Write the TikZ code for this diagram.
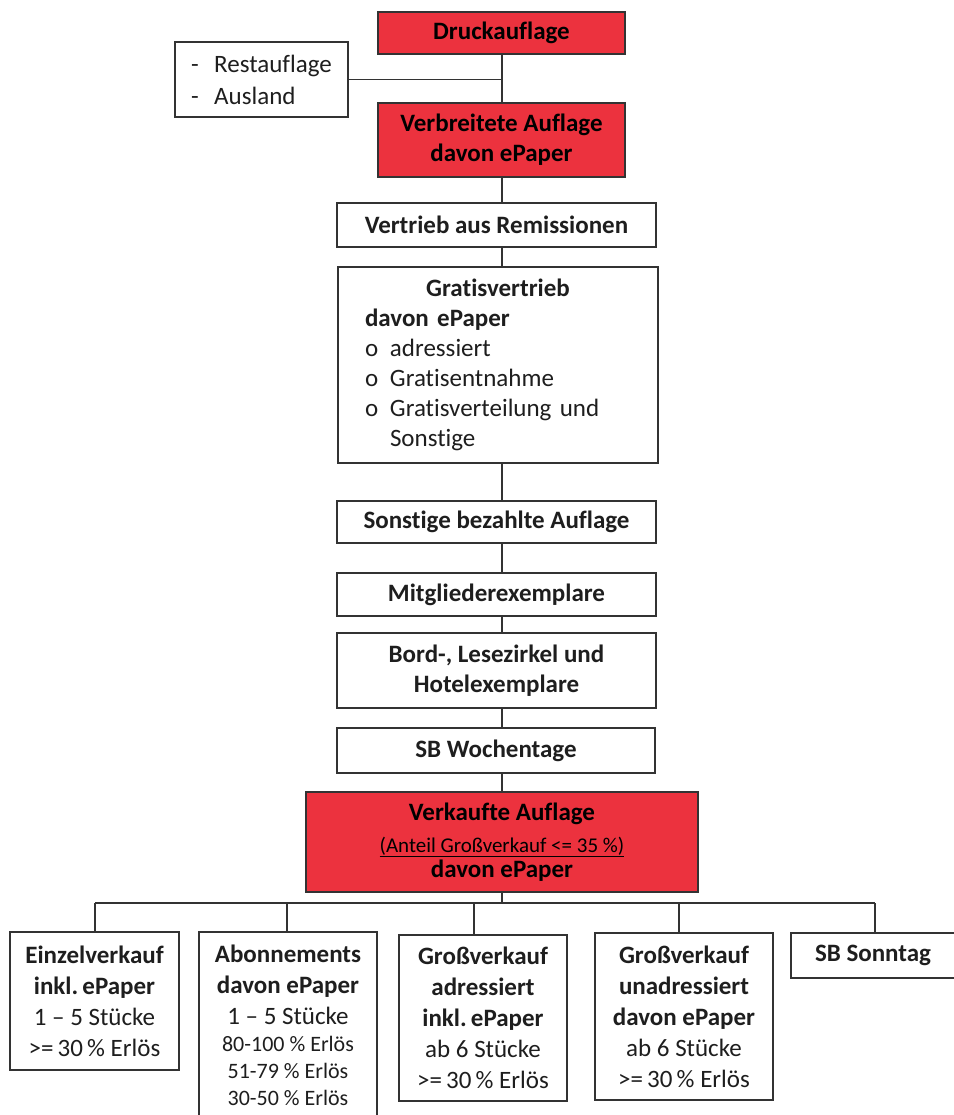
\documentclass[tikz,border=0pt]{standalone}
\usepackage{fontspec}
\setmainfont{Carlito}[Ligatures={NoCommon}]
\definecolor{boxred}{RGB}{236,50,62}
\definecolor{ink}{RGB}{30,30,30}
\definecolor{edge}{RGB}{51,51,51}
\begin{document}
\begin{tikzpicture}[x=1pt,y=-1pt,
  box/.style={draw=edge, line width=1.4pt, fill=white, inner sep=0pt, align=center, text=ink, font=\fontsize{25}{30}\selectfont},
  redbox/.style={box, fill=boxred, text=black},
  bottombox/.style={box, font=\fontsize{25}{31}\selectfont},
  link/.style={draw=edge, line width=1.3pt}]
\useasboundingbox (0,0) rectangle (953,1115);

% central column
\node[redbox, minimum width=247, minimum height=42] (druck) at (501.5,33) {\bfseries Druckauflage};
\node[box, minimum width=173, minimum height=75, align=left, font=\fontsize{25}{32}\selectfont] (rest) at (261.5,79.5)
  {\makebox[23pt][l]{-}Restauflage\\ \makebox[23pt][l]{-}Ausland};
\node[redbox, minimum width=247, minimum height=74] (verb) at (501.5,140) {\bfseries Verbreitete Auflage\\ \bfseries davon ePaper};
\node[box, minimum width=319, minimum height=44] (vert) at (496.5,225) {\bfseries Vertrieb aus Remissionen};
\node[box, minimum width=320, minimum height=196, text width=266pt, align=left] (gratis) at (498,365)
  {\makebox[\linewidth]{\bfseries Gratisvertrieb}\\
   \textbf{davon ePaper}\\
   \makebox[25pt][l]{o}adressiert\\
   \makebox[25pt][l]{o}Gratisentnahme\\
   \makebox[25pt][l]{o}Gratisverteilung und\\
   \hspace*{25pt}Sonstige};
\node[box, minimum width=319, minimum height=42] (sonst) at (496.5,522) {\bfseries Sonstige bezahlte Auflage};
\node[box, minimum width=319, minimum height=43] (mitgl) at (496.5,594.5) {\bfseries Mitgliederexemplare};
\node[box, minimum width=319, minimum height=75] (bord) at (496.5,670.5) {\bfseries Bord-, Lesezirkel und\\ \bfseries Hotelexemplare};
\node[box, minimum width=318, minimum height=45] (sbw) at (496,750.5) {\bfseries SB Wochentage};
\node[redbox, minimum width=392, minimum height=100] (verk) at (502,842)
  {\bfseries Verkaufte Auflage\\[2pt]
   {\fontsize{21}{25}\selectfont\underline{(Anteil Großverkauf <= 35 \%)}}\\[-5pt]
   \bfseries davon ePaper};

% bottom row
\node[bottombox, minimum width=169, minimum height=138] (ein) at (94.5,1001)
  {\bfseries Einzelverkauf\\ \bfseries inkl.\,ePaper\\ 1 – 5 Stücke\\ >=\,30\,\% Erlös};
\node[bottombox, minimum width=178, minimum height=186] (abo) at (288,1025)
  {\bfseries Abonnements\\ \bfseries davon ePaper\\ 1 – 5 Stücke\\[-4pt]
   {\fontsize{22}{25}\selectfont 80-100 \% Erlös}\\[-4pt]
   {\fontsize{22}{25}\selectfont 51-79 \% Erlös}\\[-4pt]
   {\fontsize{22}{25}\selectfont 30-50 \% Erlös}};
\node[bottombox, minimum width=168, minimum height=166] (gra) at (483,1018)
  {\bfseries Großverkauf\\ \bfseries adressiert\\ \bfseries inkl.\,ePaper\\ ab 6 Stücke\\ >=\,30\,\% Erlös};
\node[bottombox, minimum width=178, minimum height=167] (gru) at (684,1016.5)
  {\bfseries Großverkauf\\ \bfseries unadressiert\\ \bfseries davon ePaper\\ ab 6 Stücke\\ >=\,30\,\% Erlös};
\node[bottombox, minimum width=164, minimum height=45] (sbs) at (873,955.5) {\bfseries SB Sonntag};

% connectors
\coordinate (spine) at (502,0);
\draw[link] (druck.south -| spine) -- (verb.north -| spine);
\draw[link] (rest.east) -- (rest.east -| spine);
\draw[link] (verb.south -| spine) -- (vert.north -| spine);
\draw[link] (vert.south -| spine) -- (gratis.north -| spine);
\draw[link] (gratis.south -| spine) -- (sonst.north -| spine);
\draw[link] (sonst.south -| spine) -- (mitgl.north -| spine);
\draw[link] (mitgl.south -| spine) -- (bord.north -| spine);
\draw[link] (bord.south -| spine) -- (sbw.north -| spine);
\draw[link] (sbw.south -| spine) -- (verk.north -| spine);

\coordinate (d1) at (95,903);
\coordinate (d2) at (287,903);
\coordinate (d3) at (474,903);
\coordinate (d4) at (679,903);
\coordinate (d5) at (875,903);
\draw[link] (verk.south) -- (verk.south |- d1);
\draw[link] (d1) -- (d5);
\draw[link] (d1) -- (ein.north -| d1);
\draw[link] (d2) -- (abo.north -| d2);
\draw[link] (d3) -- (gra.north -| d3);
\draw[link] (d4) -- (gru.north -| d4);
\draw[link] (d5) -- (sbs.north -| d5);
\end{tikzpicture}
\end{document}
